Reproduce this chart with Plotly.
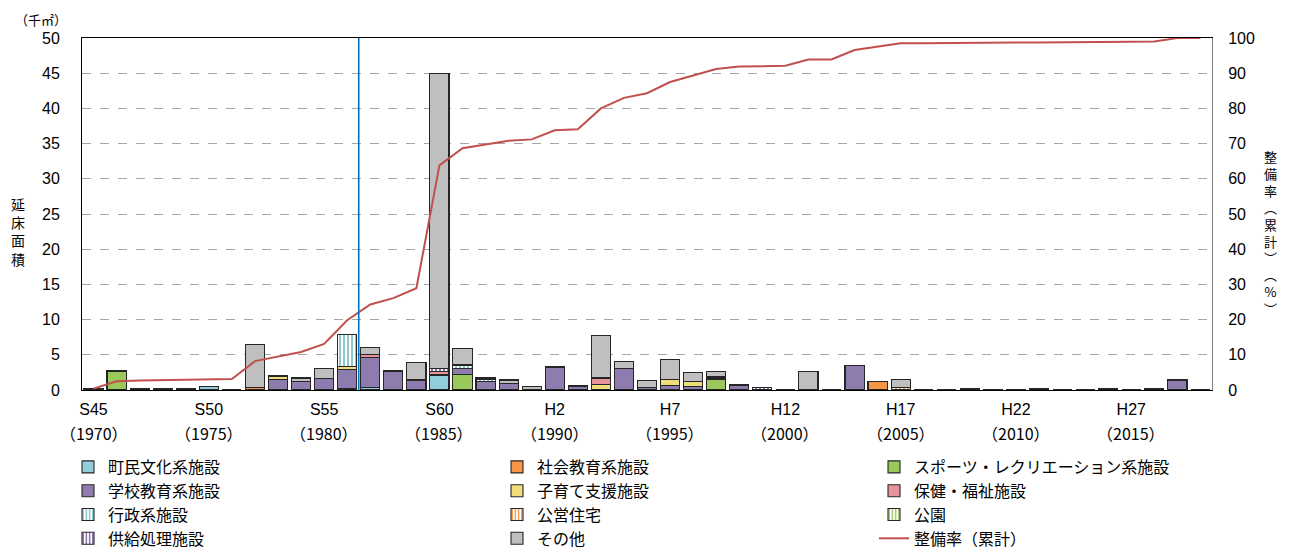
import plotly.graph_objects as go

years = list(range(1970, 2019))

def series(d):
    return [d.get(y, 0) for y in years]

# Floor area by category (thousand m2)
cultural = series({1975: 0.5, 1982: 0.3, 1985: 2.1})                     # 町民文化系施設
social_edu = series({1977: 0.4, 1981: 0.2, 2004: 1.2})                   # 社会教育系施設
sports = series({1971: 2.7, 1986: 2.2, 1997: 1.55})                      # スポーツ・レクリエーション系施設
school = series({1970: 0.2, 1972: 0.15, 1973: 0.15, 1974: 0.15,
                 1978: 1.45, 1979: 1.2, 1980: 1.6, 1981: 2.7, 1982: 4.35,
                 1983: 2.7, 1984: 1.42, 1985: 0.15, 1986: 0.85, 1987: 1.15,
                 1988: 0.95, 1990: 3.27, 1991: 0.45, 1993: 3.0, 1994: 0.4,
                 1995: 0.6, 1996: 0.55, 1997: 0.15, 1998: 0.6, 2003: 3.45,
                 2008: 0.15, 2014: 0.25, 2017: 1.42})                    # 学校教育系施設
childcare = series({1978: 0.45, 1981: 0.4, 1992: 0.75, 1995: 0.9, 1996: 0.7})  # 子育て支援施設
welfare = series({1982: 0.35, 1985: 0.4, 1992: 0.85, 2016: 0.2})         # 保健・福祉施設
admin = series({1981: 4.6, 1986: 0.5, 1987: 0.4})                        # 行政系施設
housing = series({2005: 0.3})                                            # 公営住宅
park = series({})                                                        # 公園
supply = series({1978: 0.1, 1985: 0.35, 1987: 0.15, 1991: 0.15,
                 1992: 0.1, 1997: 0.25, 1998: 0.2, 1999: 0.35})          # 供給処理施設
other = series({1977: 6.1, 1979: 0.5, 1980: 1.45, 1982: 1.0, 1984: 2.5,
                1985: 42.0, 1986: 2.35, 1988: 0.47, 1989: 0.52, 1992: 6.0,
                1993: 1.05, 1994: 0.95, 1995: 2.85, 1996: 1.25, 1997: 0.7,
                2001: 2.6, 2005: 1.15, 2009: 0.1, 2011: 0.15})           # その他

# Cumulative development rate (%)
rate = [0.4, 2.5, 2.7, 2.8, 2.9, 3.1, 3.1, 8.2, 9.6, 10.8,
        13.1, 19.8, 24.3, 26.1, 28.9, 63.8, 68.7, 69.8, 70.8, 71.2,
        73.8, 74.1, 80.0, 83.0, 84.3, 87.5, 89.4, 91.2, 91.9, 92.0,
        92.1, 93.9, 93.9, 96.6, 97.5, 98.5, 98.5, 98.6, 98.6, 98.6,
        98.7, 98.7, 98.7, 98.8, 98.8, 98.9, 99.0, 100.0, 100.0]

tick_years = [1970, 1975, 1980, 1985, 1990, 1995, 2000, 2005, 2010, 2015]
era_labels = ["S45", "S50", "S55", "S60", "H2", "H7", "H12", "H17", "H22", "H27"]
year_labels = ["（1970）", "（1975）", "（1980）", "（1985）", "（1990）",
               "（1995）", "（2000）", "（2005）", "（2010）", "（2015）"]
seismic_line_year = 1981.5

FONT = "Noto Sans CJK JP"
NUMFONT = "Liberation Sans"
OUTLINE = dict(color="#262626", width=1.1)

# name, values, color, pattern fg (None = solid), legend
bar_specs = [
    ("町民文化系施設", cultural, "#92CDDC", None, "legend"),
    ("社会教育系施設", social_edu, "#F79646", None, "legend2"),
    ("スポーツ・レクリエーション系施設", sports, "#9BC85A", None, "legend3"),
    ("学校教育系施設", school, "#8E7CAF", None, "legend"),
    ("子育て支援施設", childcare, "#F0DC78", None, "legend2"),
    ("保健・福祉施設", welfare, "#E6939B", None, "legend3"),
    ("行政系施設", admin, "#FFFFFF", "#7FC4C8", "legend"),
    ("公営住宅", housing, "#FFFFFF", "#F79646", "legend2"),
    ("公園", park, "#FFFFFF", "#9BC85A", "legend3"),
    ("供給処理施設", supply, "#FFFFFF", "#8064A2", "legend"),
    ("その他", other, "#BFBFBF", None, "legend2"),
]

fig = go.Figure()
for name, vals, color, pfg, leg in bar_specs:
    marker = dict(color=color, line=OUTLINE)
    if pfg:
        marker["pattern"] = dict(shape="|", fgcolor=pfg, bgcolor="#FFFFFF",
                                 size=4, solidity=0.45, fillmode="replace")
    fig.add_trace(go.Bar(x=years, y=vals, name=name, marker=marker,
                         legend=leg, legendgroup=name))

fig.add_trace(go.Scatter(x=years, y=rate, name="整備率（累計）", mode="lines",
                         line=dict(color="#C0504D", width=2), yaxis="y2",
                         legend="legend3", legendgroup="rate"))

fig.add_shape(type="line", x0=seismic_line_year, x1=seismic_line_year, xref="x",
              y0=0, y1=1, yref="paper", line=dict(color="#0070C0", width=1.6))

# page body margin offset (screen px = OFF + figure px)
OFF = 8
W, H = 1274, 542
L, R, T, B = 74, 70, 30, 160
PW, PH = W - L - R, H - T - B

def px(x):  # screen pixel -> paper x
    return (x - OFF - L) / PW

def py(y):  # screen pixel -> paper y
    return (OFF + T + PH - y) / PH

leg_common = dict(orientation="v", yanchor="top", xanchor="left",
                  font=dict(family=FONT, size=16, color="#000"),
                  bgcolor="rgba(0,0,0,0)", tracegroupgap=0, itemwidth=30)
fig.update_layout(
    width=W, height=H,
    margin=dict(l=L, r=R, t=T, b=B, autoexpand=False),
    paper_bgcolor="white", plot_bgcolor="white",
    barmode="stack", bargap=0.17,
    font=dict(family=FONT, size=15, color="#000"),
    legend=dict(x=px(68), y=py(450), **leg_common),
    legend2=dict(x=px(497), y=py(450), **leg_common),
    legend3=dict(x=px(874), y=py(450), **leg_common),
    xaxis=dict(range=[1969.5, 2018.5], tickvals=tick_years, ticktext=era_labels,
               showgrid=False, showline=True, linecolor="#000", linewidth=1,
               mirror=True, ticks="", ticklabelstandoff=5,
               tickfont=dict(family=NUMFONT, size=16)),
    yaxis=dict(range=[0, 50], dtick=5, showgrid=True, gridcolor="#A6A6A6",
               griddash="dash", gridwidth=1, showline=True, linecolor="#000",
               linewidth=1, ticks="", zeroline=False, ticklabelstandoff=18,
               tickfont=dict(family=NUMFONT, size=16)),
    yaxis2=dict(range=[0, 100], dtick=10, overlaying="y", side="right",
                showgrid=False, showline=True, linecolor="#808080", linewidth=1,
                ticks="", zeroline=False, ticklabelstandoff=12,
                tickfont=dict(family=NUMFONT, size=16)),
    showlegend=True,
)

annotations = []
for yr, lab in zip(tick_years, year_labels):
    annotations.append(dict(text=lab, x=yr, xref="x", y=py(433), yref="paper",
                            showarrow=False, xanchor="center", yanchor="middle",
                            font=dict(family=FONT, size=16, color="#000")))
ann = [
    dict(text="（千㎡）", x=px(41), y=py(8.5), size=13, ya="top"),
    dict(text="延<br>床<br>面<br>積", x=px(18), y=py(231), size=14, ya="middle"),
    dict(text="整<br>備<br>率<br>︵<br>累<br>計<br>︶<br>︵<br>%<br>︶", x=px(1270),
         y=py(232), size=13, ya="middle"),
]
for a in ann:
    annotations.append(dict(text=a["text"], x=a["x"], y=a["y"], xref="paper",
                            yref="paper", showarrow=False, xanchor="center",
                            yanchor=a["ya"], borderpad=0,
                            font=dict(family=FONT, size=a["size"], color="#000")))
fig.update_layout(annotations=annotations)

fig.write_html("out.html")
